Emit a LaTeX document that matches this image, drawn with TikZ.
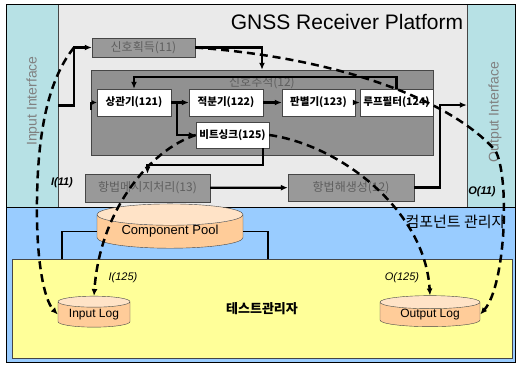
\documentclass[tikz,border=0pt]{standalone}
\usepackage{fontspec}
\setmainfont{Liberation Sans}
\newfontfamily\kr{Noto Sans CJK KR}
\usetikzlibrary{arrows.meta,calc,shapes.geometric,positioning}
\definecolor{ifcyan}{RGB}{183,225,229}
\definecolor{platgray}{RGB}{234,234,234}
\definecolor{boxgray}{RGB}{153,153,153}
\definecolor{trkgray}{RGB}{145,145,145}
\definecolor{boxtext}{RGB}{95,95,95}
\definecolor{mgrblue}{RGB}{153,204,255}
\definecolor{testyellow}{RGB}{255,255,153}
\definecolor{peach}{RGB}{255,204,153}
\definecolor{darkline}{RGB}{70,70,70}
\tikzset{
  grayblk/.style={draw=darkline, fill=boxgray, text=boxtext, inner sep=0pt,
    font=\kr\fontsize{12}{14}\selectfont},
  inblk/.style={draw=darkline, fill=white, inner sep=0pt, minimum width=74, minimum height=27,
    font=\kr\bfseries\fontsize{10.5}{12}\selectfont},
  logdb/.style={cylinder, shape border rotate=90, aspect=0.22, draw=darkline,
    cylinder uses custom fill, cylinder body fill=peach, cylinder end fill=peach!55!white,
    inner sep=0pt, font=\fontsize{12}{14}\selectfont},
  flow/.style={line width=2.2pt, -{Latex[length=7pt,width=6pt]}},
  link/.style={line width=1.6pt},
  trace/.style={line width=2.5pt, dash pattern=on 8pt off 5pt, -{Latex[length=7pt,width=6pt]}},
  tag/.style={font=\itshape\fontsize{11}{13}\selectfont}
}
\begin{document}
\begin{tikzpicture}[x=1pt,y=-1pt]
  \useasboundingbox (0,0) rectangle (516,364);

  % platform and manager areas
  \fill[platgray] (6,4) rectangle (515,207);
  \fill[mgrblue] (6,207) rectangle (515,362);
  \node[draw=darkline, fill=ifcyan, minimum width=52, minimum height=203, inner sep=0pt] at (32,105.5) (inif) {};
  \node[draw=darkline, fill=ifcyan, minimum width=48, minimum height=203, inner sep=0pt] at (491,105.5) (outif) {};
  \node[rotate=90, text=gray, font=\fontsize{14}{16}\selectfont] at (33,101) {Input Interface};
  \node[rotate=90, text=gray, font=\fontsize{14}{16}\selectfont] at (495,112) {Output Interface};
  \draw[line width=1pt] (6,4) rectangle (515,362);
  \draw[line width=1pt] (6,207) -- (515,207);

  \node[font=\fontsize{21}{24}\selectfont] at (347,22) (title) {GNSS Receiver Platform};

  % receiver blocks
  \node[grayblk, minimum width=103, minimum height=19] at (143.5,47.5) (acq) {신호획득(11)};
  \node[draw=darkline, fill=trkgray, minimum width=342, minimum height=85, inner sep=0pt] at (262,112.5) (trk) {};
  \node[text=boxtext, font=\kr\fontsize{12}{14}\selectfont] at (262,83) (trklbl) {신호추적(12)};
  \node[inblk] at (134,102.5) (corr) {상관기(121)};
  \node[inblk] at (226,102.5) (integ) {적분기(122)};
  \node[inblk, minimum width=73] at (318.5,102.5) (disc) {판별기(123)};
  \node[inblk, minimum width=73] at (396.5,102.5) (loopf) {루프필터(124)};
  \node[inblk, minimum width=73, minimum height=26] at (232.5,135) (bsync) {비트싱크(125)};
  \node[grayblk, minimum width=125, minimum height=28] at (147.5,188) (navmsg) {항법메시지처리(13)};
  \node[grayblk, minimum width=126, minimum height=27] at (351,187.5) (navsol) {항법해생성(12)};

  % test manager
  \node[draw=darkline, fill=testyellow, minimum width=500, minimum height=99, inner sep=0pt,
    font=\kr\bfseries\fontsize{13}{15}\selectfont] at (262,308.5) (testbox) {테스트관리자};
  \node[anchor=east, font=\kr\fontsize{15}{17}\selectfont] at (509,222) (mgrlbl) {컴포넌트 관리자};
  \node[logdb, minimum width=146, minimum height=31, font=\fontsize{13}{15}\selectfont] at (170,231.5) (pool) {Component Pool};
  \node[logdb, minimum width=72, minimum height=31] at (94,314.5) (inlog) {Input Log};
  \node[logdb, minimum width=100, minimum height=31] at (430,314.5) (outlog) {Output Log};

  \draw[link] (pool.west) -| ($(testbox.north west)+(50,0)$);
  \draw[link] (pool.east) -| ($(testbox.north west)+(256,0)$);

  % signal flow
  \coordinate (inbend) at (74,47.5);
  \coordinate (outbend) at (440,105);
  \draw[flow] (inif.east |- 0,105.5) -| (inbend) -- (acq.west);
  \draw[flow] (acq.east) -| (trk.north);
  \draw[flow, line width=1.4pt, -{Latex[length=5pt,width=5pt]}] (91,110) |- (corr.west);
  \draw[flow] (corr) -- (integ);
  \draw[flow] (integ) -- (disc);
  \draw[flow] (disc) -- (loopf);
  \draw[flow] ($(corr.east)+(6,0)$) |- (bsync.west);
  \draw[flow] (loopf.north) -- ++(0,-12) -| (corr.north);
  \draw[flow] ($(bsync.south east)+(-6,0)$) -- ++(0,17) -| (navmsg.north);
  \draw[flow] (navmsg) -- (navsol);
  \draw[flow] (navsol.east) -| (outbend) -- (outbend -| outif.west);

  % test traces
  \draw[trace] (inbend) .. controls (52,75) and (38,120) .. (37,200)
    .. controls (36,260) and (44,300) .. (inlog.west);
  \draw[trace] (acq.east) .. controls (340,58) and (450,100) .. (495,150)
    .. controls (510,175) and (506,285) .. (outlog.east);
  \draw[trace] (bsync.west) .. controls (150,150) and (100,210) .. (inlog.north);
  \draw[trace] (bsync.east) .. controls (340,145) and (425,210) .. (outlog.north);

  \node[tag, font=\bfseries\itshape\fontsize{11}{13}\selectfont] at (62,183) (tin11) {I(11)};
  \node[tag, font=\bfseries\itshape\fontsize{11}{13}\selectfont] at (482,192) (tout11) {O(11)};
  \node[tag] at (123,278) (tin125) {I(125)};
  \node[tag] at (402,278) (tout125) {O(125)};
\end{tikzpicture}
\end{document}
